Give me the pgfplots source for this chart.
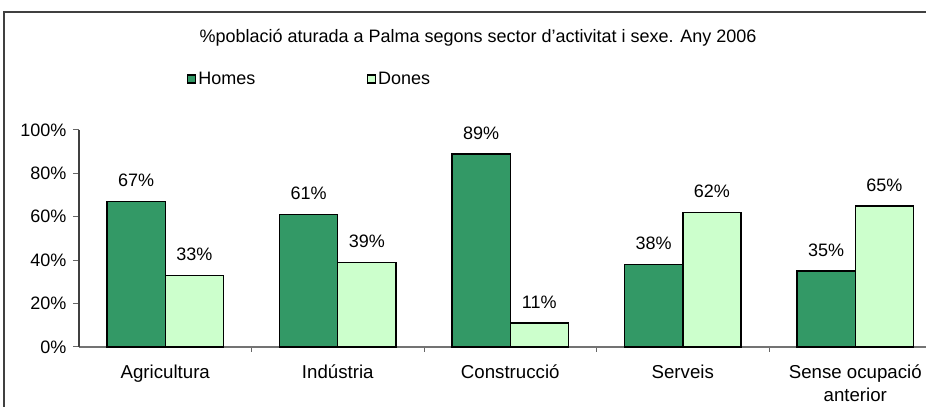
\documentclass[border=0pt]{standalone}
\usepackage{fontspec}
\setmainfont{Liberation Sans}
\usepackage{pgfplots}
\pgfplotsset{compat=1.18}
\definecolor{homes}{HTML}{339966}
\definecolor{dones}{HTML}{CCFFCC}

\begin{document}
\begin{tikzpicture}[font=\fontsize{13.5}{16}\selectfont]
  % 1 px of the reference = 0.75pt
  \useasboundingbox (0,0) rectangle (694.5pt,305.25pt);
  \draw[black!75, line width=1.1pt] (3pt,-20pt) rectangle (720pt,296.25pt);
  \begin{axis}[
      at={(59.25pt,45pt)}, anchor=south west,
      scale only axis,
      width=635.25pt, height=162.75pt,
      xmin=-0.5, xmax=4.41,
      ymin=0, ymax=100,
      enlargelimits=false,
      clip=false,
      axis x line*=bottom,
      axis y line*=left,
      x axis line style={draw=black!55, line width=0.8pt},
      y axis line style={draw=black!75, line width=0.8pt},
      ybar=0pt,
      bar width=0.337,
      xtick={0,1,2,3,4},
      xticklabels={Agricultura, Indústria, Construcció, Serveis,
        {\begin{tabular}[t]{@{}c@{}}Sense ocupació\\[1pt]anterior\end{tabular}}},
      major x tick style=transparent,
      minor xtick={0.5,1.5,2.5,3.5},
      minor tick length=3.75pt,
      major tick length=4.5pt,
      tick align=outside,
      tick style={draw=black!60, line width=0.75pt},
      xticklabel style={font=\fontsize{14}{16}\selectfont, anchor=base, yshift=-19.5pt},
      ytick={0,20,40,60,80,100},
      yticklabel={\pgfmathprintnumber[assume math mode=true]{\tick}\%},
      yticklabel style={xshift=-1.5pt},
      nodes near coords={\pgfmathprintnumber[assume math mode=true]{\pgfplotspointmeta}\%},
      every node near coord/.append style={anchor=base, yshift=11pt, text=black},
      legend columns=2,
      legend style={at={(0.1275,1.235)}, anchor=west, draw=none, fill=none,
        inner sep=0pt, nodes={inner xsep=1.5pt},
        /tikz/every even column/.append style={column sep=82pt}},
    ]
    \addplot[fill=homes, draw=black, line width=1.1pt,
      legend image code/.code={\draw[fill=homes, draw=black, line width=0.9pt] (0pt,-3pt) rectangle (6pt,3pt);}]
      coordinates {(0,67) (1,61) (2,89) (3,38) (4,35)};
    \addlegendentry{Homes}
    \addplot[fill=dones, draw=black, line width=1.1pt,
      legend image code/.code={\draw[fill=dones, draw=black, line width=0.9pt] (0pt,-3pt) rectangle (6pt,3pt);}]
      coordinates {(0,33) (1,39) (2,11) (3,62) (4,65)};
    \addlegendentry{Dones}
  \end{axis}
  \node[font=\fontsize{13.5}{15}\selectfont] at (358.5pt,276.75pt)
    {\%població aturada a Palma segons sector d'activitat i sexe. Any 2006};
\end{tikzpicture}
\end{document}
